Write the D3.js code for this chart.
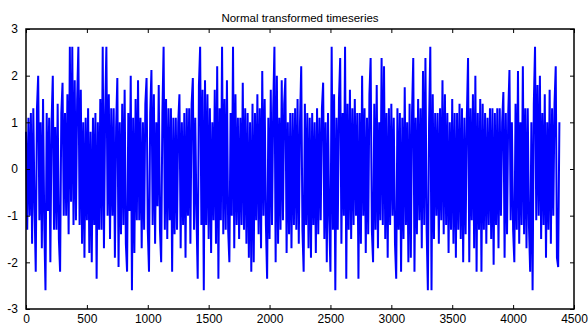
<!DOCTYPE html>
<html>
<head>
<meta charset="utf-8">
<script src="https://cdn.jsdelivr.net/npm/d3@7"></script>
<style>
  html, body { margin: 0; padding: 0; background: #fff; }
  svg { display: block; }
  text { font-family: "Liberation Sans", Arial, Helvetica, sans-serif; fill: #000; }
</style>
</head>
<body>
<svg id="chart" width="588" height="327"></svg>
<script>
// Normal-score transformed series, one value kept every `sampleStep` samples
const sampleStep = 10;
const seriesValues = [
  // 0 - 99
  0.8, -1.3, 1.1, -1.0, 1.2, -1.6, 1.3, -0.8, -2.2, 1.3, 2.0, -1.1, 1.0, -1.7, 1.5, -1.2, -2.6, 1.2, -0.9, 1.1,
  -2.0, 1.0, 2.0, -1.3, 0.9, -1.3, 1.4, -1.5, -2.2, 1.2, 1.85, -1.0, 1.2, -1.0, 1.6, -1.4, 2.62, -0.7, 2.62, -1.2,
  1.9, -1.1, 1.5, 2.62, -1.2, 1.7, -1.6, 1.0, -1.9, 1.1, -1.1, 1.3, -1.8, 0.8, -2.0, 1.1, -1.2, 1.2, -2.35, 1.0,
  -1.3, 1.5, -1.3, 2.62, -1.7, 1.2, 2.62, -1.0, 1.6, -1.5, 1.3, -1.0, 1.3, -1.9, 0.9, 1.95, -2.1, 1.0, -1.4, 1.4,
  -1.2, 1.7, -1.6, -2.2, 1.2, -0.9, 2.0, -2.6, 1.1, -1.8, 1.5, -1.1, 1.9, -1.1, 1.1, -1.7, 1.0, -1.3, 1.4, 1.95,
  // 100 - 199
  -1.3, -2.2, 1.2, 2.12, -1.2, 1.6, -1.6, 1.0, -0.8, 1.8, -1.3, -2.0, 1.2, 2.62, -1.3, 1.5, -1.5, 1.3, -1.1, 1.3,
  -2.2, 1.1, -1.4, 1.1, -1.3, 1.0, 1.6, -1.7, 1.0, -1.2, 1.2, -1.9, 1.3, -1.0, 1.3, -1.6, 1.4, 1.95, -1.3, 1.1,
  -1.0, -2.35, 1.8, 2.62, -1.2, 1.7, -2.6, 1.9, -1.2, 1.6, -1.5, 1.3, -1.8, 1.0, -1.1, 1.7, -1.6, 2.2, -2.35, 1.3,
  -1.1, 2.62, -1.4, 1.5, -1.3, 1.9, -1.3, -2.0, 1.2, -1.0, 2.62, -1.7, 1.6, -1.2, 1.1, -1.5, 1.1, -1.2, 1.85, -1.3,
  1.3, -1.6, 1.2, -1.9, 1.0, -2.2, 1.4, -2.0, 1.2, -1.1, 1.6, -1.4, 1.3, -1.7, 2.1, -1.0, 1.5, -1.2, -2.35, 1.1,
  // 200 - 299
  -1.5, 1.7, -1.2, 1.3, 2.62, -2.0, 2.0, -1.6, 1.1, -1.3, 1.9, -1.1, 1.4, 1.95, -1.8, 1.0, -1.4, 1.2, -1.7, 1.2,
  -1.2, 1.3, -1.3, 1.5, -1.6, 1.0, 2.2, -1.3, -2.2, 1.4, -1.2, 1.2, -1.7, 1.1, -1.9, 1.2, -1.2, 1.0, -1.8, 1.3,
  -1.4, 1.1, -1.1, 1.3, 1.85, -1.5, 1.0, -2.0, 1.2, -1.1, -2.2, 2.62, -1.3, 1.6, -2.6, 1.1, -1.3, 1.5, 2.38, -1.6,
  1.2, -1.0, 2.62, -2.35, 1.4, -1.3, 1.7, -1.5, 1.3, -1.2, 1.5, -1.0, 1.2, -2.35, 1.2, -1.6, 2.0, -1.0, 1.3, -1.8,
  1.1, -1.4, 1.6, 2.38, -1.3, -2.0, 1.4, -1.3, 1.8, -1.7, 1.0, -1.1, 2.38, -1.2, 2.2, -1.5, 1.2, -1.9, 1.3, -1.2,
  // 300 - 399
  1.4, -1.0, 1.1, -1.6, -2.35, 1.3, -1.3, 1.2, -2.2, 1.1, -1.5, 1.75, -1.2, 1.0, -2.0, 1.4, -1.9, 1.2, 2.38, -2.2,
  1.1, -1.4, 1.5, -1.1, 1.3, -1.7, 2.1, -1.2, 2.38, -1.3, -2.6, 1.0, 2.62, -2.6, 1.6, -1.5, 1.2, -1.0, 1.2, -1.6,
  1.3, -1.1, 1.9, -1.4, 1.6, -1.2, 1.2, -1.8, 1.0, -1.3, 1.5, -1.6, 1.2, -1.9, 1.2, -1.3, 1.4, -1.5, 1.3, -2.0,
  1.1, -1.4, 1.1, 2.38, -2.0, 1.3, -1.1, 1.6, -1.7, 2.0, -2.2, 1.2, -1.3, 1.5, -2.2, 1.4, -1.3, 1.2, -1.6, 1.1,
  -1.2, 1.3, -1.5, 1.3, -2.05, 1.2, -1.2, 1.3, -1.7, 1.3, -1.0, 1.0, 1.65, -1.9, 1.2, -1.4, 1.2, 2.12, -1.1, 1.0,
  // 400 - 438
  -1.3, -2.0, 1.4, -1.3, 2.1, -1.6, 1.0, -1.2, 2.2, -1.4, 1.3, -1.7, 1.3, -1.2, -2.2, 1.0, -2.6, 1.4, 2.62, -1.1,
  1.8, -1.0, 2.0, -1.5, 1.2, -1.2, 1.6, -1.9, 1.0, -1.3, 1.7, -1.6, 1.3, -1.0, 1.4, 2.2, -1.9, -2.1, 1.0
];

// Axis domains and tick values
const xDomain = [0, 4500];
const yDomain = [-3, 3];
const xTicks = [0, 500, 1000, 1500, 2000, 2500, 3000, 3500, 4000, 4500];
const yTicks = [-3, -2, -1, 0, 1, 2, 3];
const titleText = "Normal transformed timeseries";

const box = { left: 26, right: 574, top: 29, bottom: 309 };

const svg = d3.select("#chart");

const x = d3.scaleLinear().domain(xDomain).range([box.left, box.right]);
const y = d3.scaleLinear().domain(yDomain).range([box.bottom, box.top]);

const points = seriesValues.map((v, i) => ({ t: i * sampleStep, v }));

// Series line
svg.append("path")
  .datum(points)
  .attr("fill", "none")
  .attr("stroke", "#0000ff")
  .attr("stroke-width", 2)
  .attr("stroke-linejoin", "miter")
  .attr("d", d3.line().x(d => x(d.t)).y(d => y(d.v)));

// Axes: ticks point inward on all four sides, labels on bottom and left only
const fmt = d => String(d);
const tickLen = 4;

const styleAxis = g => {
  g.select(".domain").remove();
  g.selectAll(".tick line").attr("stroke", "#000").attr("stroke-width", 1);
  g.selectAll(".tick text").style("font-size", "12px").attr("fill", "#000");
};

svg.append("g")
  .attr("transform", `translate(0,${box.bottom})`)
  .call(d3.axisBottom(x).tickValues(xTicks).tickFormat(fmt).tickSizeInner(-tickLen).tickSizeOuter(0).tickPadding(5))
  .call(styleAxis);

svg.append("g")
  .attr("transform", `translate(0,${box.top})`)
  .call(d3.axisTop(x).tickValues(xTicks).tickFormat("").tickSizeInner(-tickLen).tickSizeOuter(0))
  .call(styleAxis);

svg.append("g")
  .attr("transform", `translate(${box.left},0)`)
  .call(d3.axisLeft(y).tickValues(yTicks).tickFormat(fmt).tickSizeInner(-tickLen).tickSizeOuter(0).tickPadding(8))
  .call(styleAxis);

svg.append("g")
  .attr("transform", `translate(${box.right},0)`)
  .call(d3.axisRight(y).tickValues(yTicks).tickFormat("").tickSizeInner(-tickLen).tickSizeOuter(0))
  .call(styleAxis);

// Axes box
svg.append("rect")
  .attr("x", box.left)
  .attr("y", box.top)
  .attr("width", box.right - box.left)
  .attr("height", box.bottom - box.top)
  .attr("fill", "none")
  .attr("stroke", "#000")
  .attr("stroke-width", 1.5);

// Title
svg.append("text")
  .attr("x", (box.left + box.right) / 2)
  .attr("y", 22)
  .attr("text-anchor", "middle")
  .style("font-size", "11.5px")
  .text(titleText);
</script>
</body>
</html>
